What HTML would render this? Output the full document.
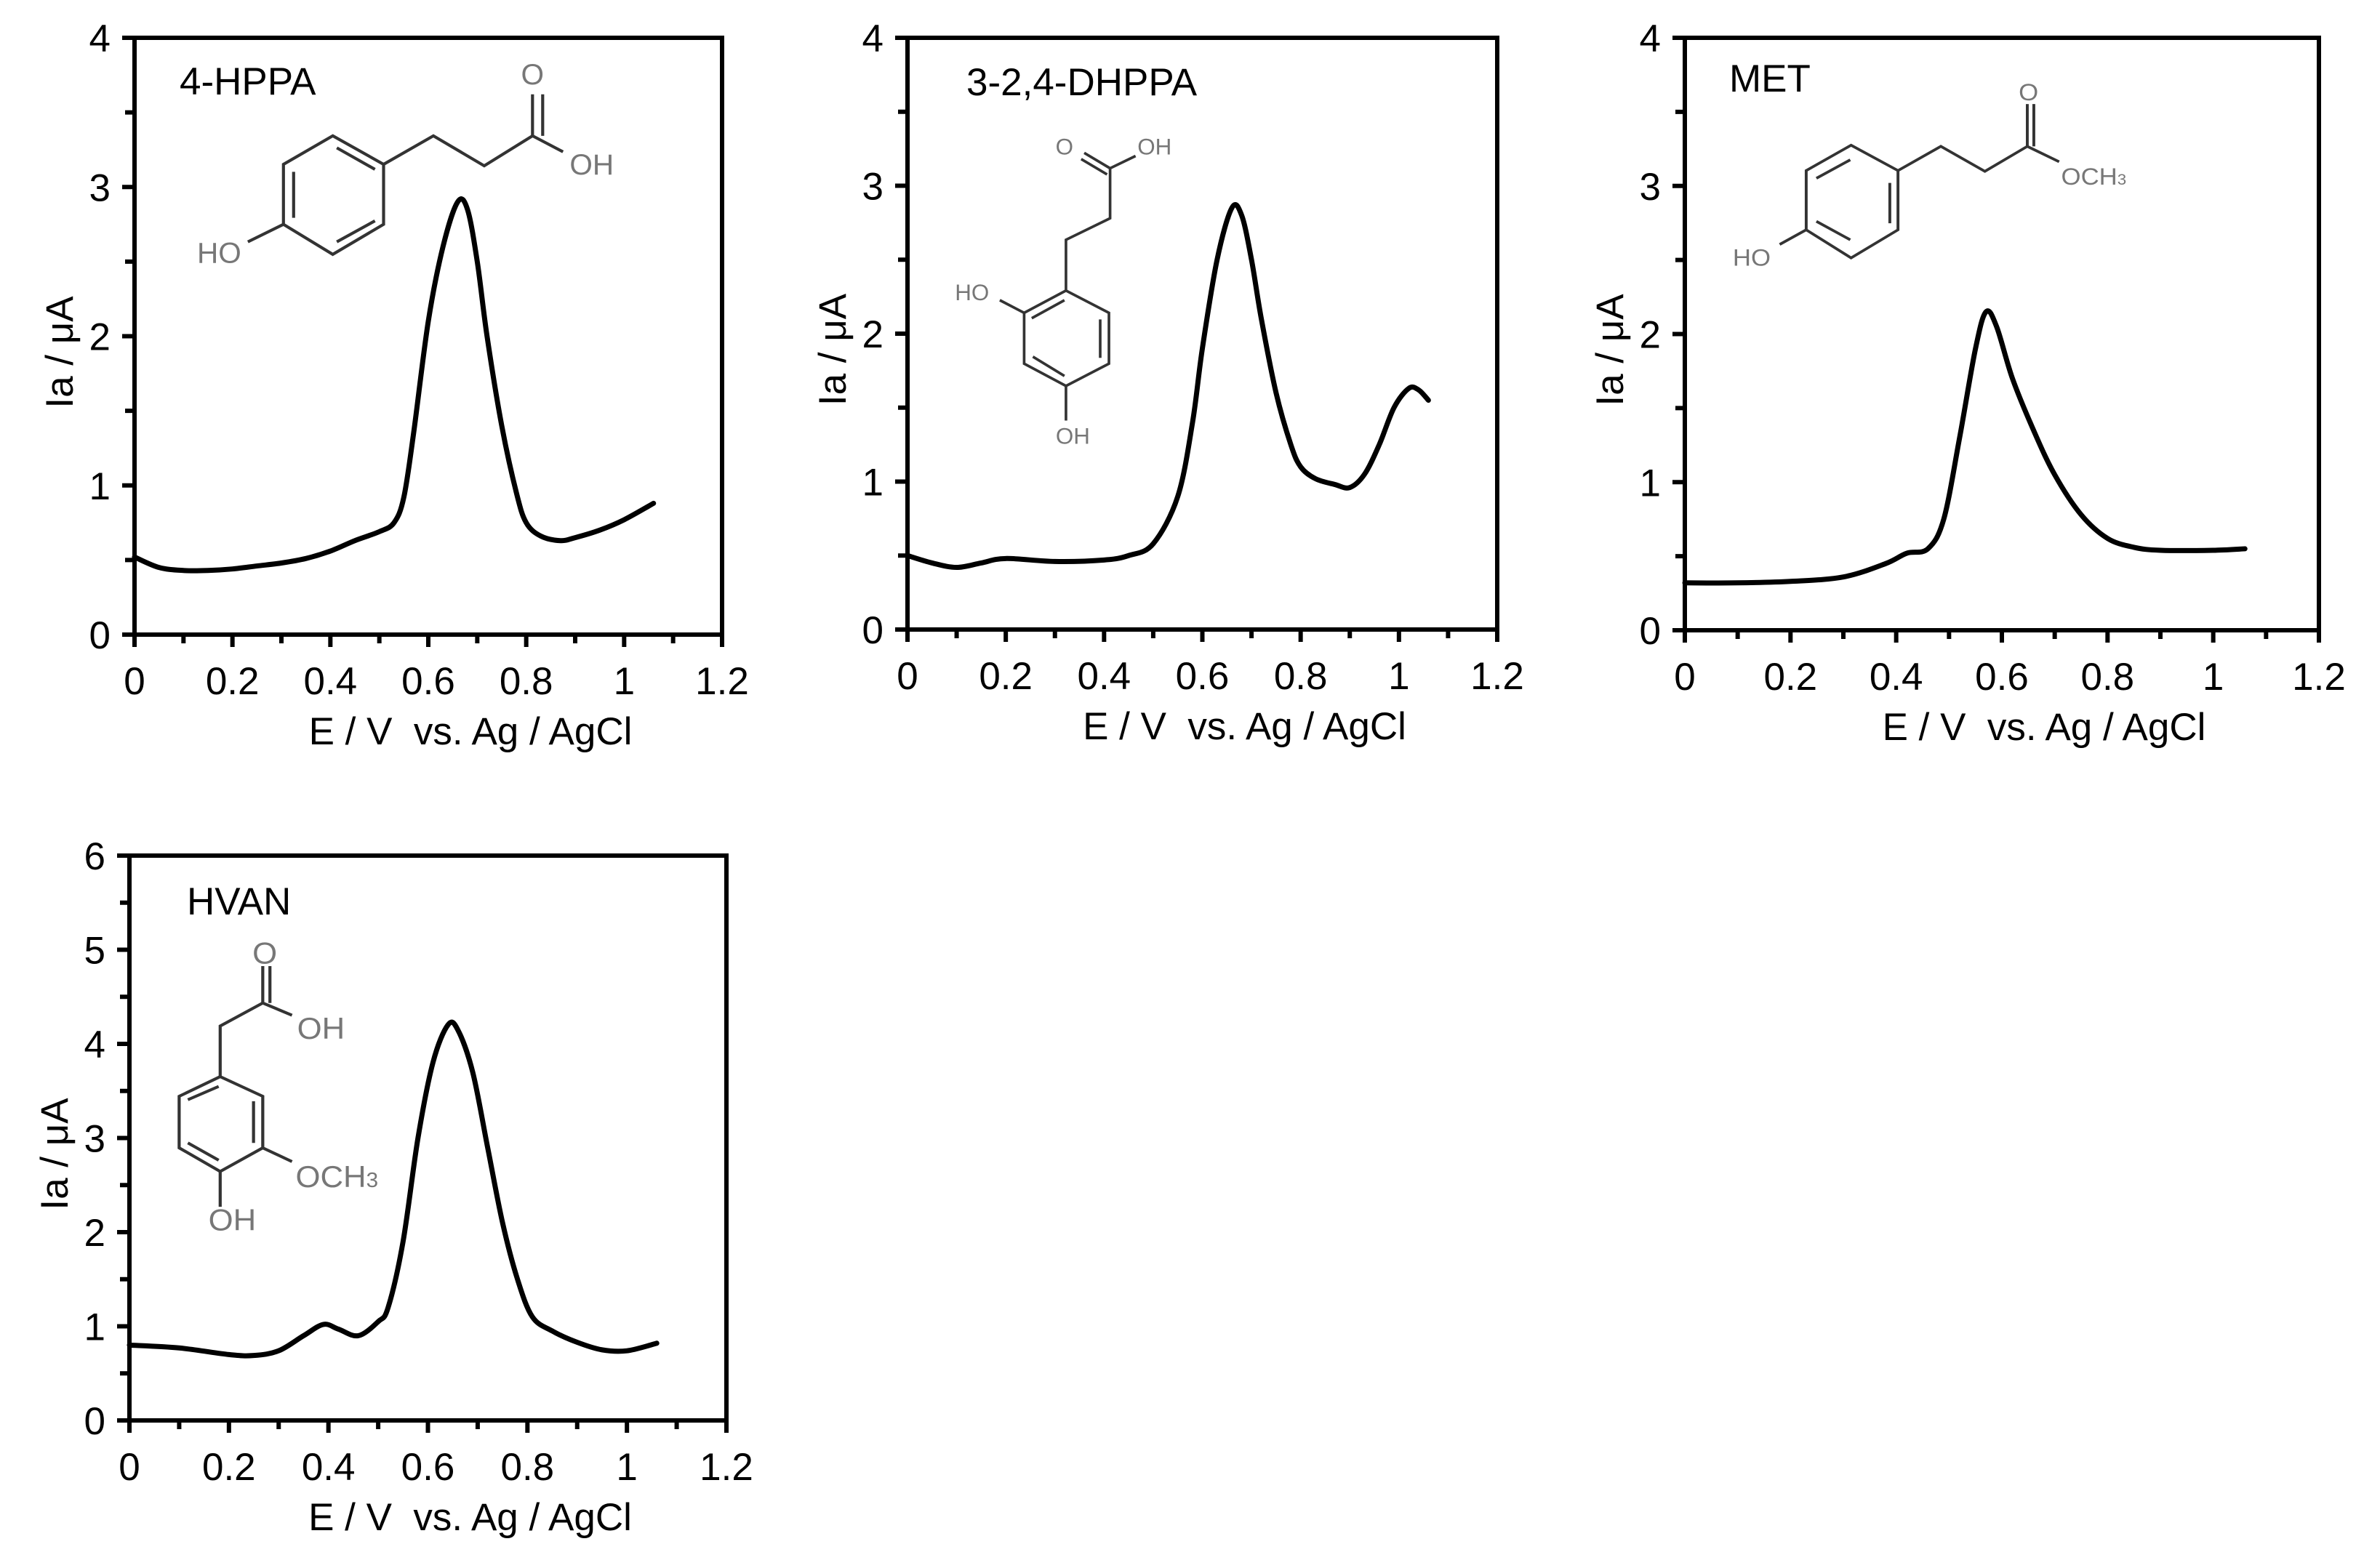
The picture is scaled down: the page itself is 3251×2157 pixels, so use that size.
<!DOCTYPE html>
<html><head><meta charset="utf-8">
<style>
html,body{margin:0;padding:0;background:#fff;}
svg{display:block;font-family:"Liberation Sans",Arial,sans-serif;}
.pre{white-space:pre;}
</style></head>
<body>
<svg id="fig" width="3251" height="2157" viewBox="0 0 3251 2157" xmlns="http://www.w3.org/2000/svg">
<rect width="3251" height="2157" fill="#fff"/>

<g transform="matrix(0.699,0,0,0.688,1.86,2.46)" stroke="#333" stroke-width="6" fill="none">
  <polygon points="652,268 752,325 752,445 652,505 555,445 555,325"/>
  <line x1="575" y1="340" x2="575" y2="432"/><line x1="660" y1="292" x2="735" y2="335"/><line x1="660" y1="480" x2="735" y2="438"/>
  <polyline points="752,325 850,268 950,328 1045,268 1105,300"/>
  <line x1="1045" y1="268" x2="1045" y2="185"/><line x1="1065" y1="268" x2="1065" y2="185"/>
  <line x1="555" y1="445" x2="485" y2="480"/>
  <g stroke="none" fill="#777" font-size="58">
    <text x="1045" y="165" text-anchor="middle">O</text>
    <text x="1118" y="345">OH</text>
    <text x="385" y="522">HO</text>
  </g>
</g>

<g transform="matrix(0.523,0,0,0.529,1240,40)" stroke="#333" stroke-width="7" fill="none">
  <polygon points="432,680 545,738 545,870 432,928 322,870 322,738"/>
  <line x1="342" y1="752" x2="428" y2="705"/><line x1="522" y1="755" x2="522" y2="855"/><line x1="345" y1="852" x2="428" y2="902"/>
  <polyline points="432,680 432,548 548,492 548,362 615,330"/>
  <line x1="548" y1="362" x2="480" y2="322"/><line x1="540" y1="378" x2="472" y2="338"/>
  <line x1="322" y1="738" x2="258" y2="705"/>
  <line x1="432" y1="928" x2="432" y2="1018"/>
  <g stroke="none" fill="#777" font-size="60">
    <text x="428" y="326" text-anchor="middle">O</text>
    <text x="620" y="326">OH</text>
    <text x="140" y="705">HO</text>
    <text x="405" y="1078">OH</text>
  </g>
</g>

<g transform="matrix(0.561,0,0,0.529,2310,40)" stroke="#333" stroke-width="7" fill="none">
  <polygon points="420,302 535,368 535,522 420,595 310,522 310,368"/>
  <line x1="335" y1="388" x2="418" y2="340"/><line x1="515" y1="400" x2="515" y2="505"/><line x1="335" y1="500" x2="418" y2="548"/>
  <polyline points="535,368 640,305 748,370 852,305 930,345"/>
  <line x1="852" y1="305" x2="852" y2="195"/><line x1="868" y1="305" x2="868" y2="195"/>
  <line x1="310" y1="522" x2="245" y2="560"/>
  <g stroke="none" fill="#777" font-size="62">
    <text x="855" y="185" text-anchor="middle">O</text>
    <text x="935" y="405">OCH<tspan font-size="40">3</tspan></text>
    <text x="130" y="615">HO</text>
  </g>
</g>

<g transform="matrix(0.7053,0,0,0.6757,-4.0,1099.3)" stroke="#333" stroke-width="6" fill="none">
  <polygon points="435,565 518,605 518,710 435,758 355,710 355,605"/>
  <line x1="372" y1="612" x2="432" y2="585"/><line x1="500" y1="615" x2="500" y2="700"/><line x1="372" y1="700" x2="432" y2="735"/>
  <polyline points="435,565 435,462 518,415 575,440"/>
  <line x1="518" y1="415" x2="518" y2="340"/><line x1="532" y1="415" x2="532" y2="340"/>
  <line x1="518" y1="710" x2="575" y2="738"/>
  <line x1="435" y1="758" x2="435" y2="830"/>
  <g stroke="none" fill="#777" font-size="62">
    <text x="522" y="335" text-anchor="middle">O</text>
    <text x="585" y="488">OH</text>
    <text x="582" y="790">OCH<tspan font-size="42">3</tspan></text>
    <text x="412" y="878">OH</text>
  </g>
</g>
</svg>

<script>
const xs1 = [0,0.05,0.1,0.15,0.2,0.25,0.3,0.35,0.4,0.45,0.5,0.53,0.55,0.57,0.6,0.63,0.66,0.68,0.7,0.72,0.75,0.78,0.8,0.83,0.87,0.9,0.95,1.0,1.06];
const ys1 = [0.52,0.45,0.43,0.43,0.44,0.46,0.48,0.51,0.56,0.63,0.69,0.75,0.92,1.35,2.1,2.6,2.9,2.85,2.5,2.0,1.4,0.95,0.75,0.66,0.63,0.65,0.7,0.77,0.88];
const xs2 = [0,0.05,0.1,0.15,0.2,0.3,0.4,0.45,0.5,0.55,0.58,0.6,0.63,0.66,0.68,0.7,0.72,0.75,0.78,0.8,0.83,0.87,0.9,0.93,0.96,0.99,1.02,1.04,1.06];
const ys2 = [0.5,0.45,0.42,0.45,0.48,0.46,0.47,0.5,0.58,0.9,1.4,1.9,2.5,2.85,2.8,2.5,2.1,1.6,1.25,1.1,1.02,0.98,0.96,1.05,1.25,1.5,1.63,1.62,1.55];
const xs3 = [0,0.1,0.2,0.3,0.38,0.42,0.46,0.49,0.52,0.55,0.57,0.59,0.62,0.66,0.7,0.75,0.8,0.85,0.9,1.0,1.06];
const ys3 = [0.32,0.32,0.33,0.36,0.45,0.52,0.55,0.75,1.3,1.9,2.15,2.05,1.7,1.35,1.05,0.78,0.62,0.56,0.54,0.54,0.55];
const xs4 = [0,0.1,0.2,0.25,0.3,0.35,0.39,0.42,0.46,0.5,0.52,0.55,0.58,0.61,0.64,0.66,0.69,0.72,0.75,0.78,0.81,0.85,0.9,0.95,1.0,1.06];
const ys4 = [0.8,0.77,0.7,0.69,0.74,0.9,1.02,0.97,0.9,1.05,1.2,1.9,3.0,3.8,4.2,4.15,3.7,2.9,2.1,1.5,1.1,0.95,0.83,0.75,0.74,0.82];
const xTicks = [0,0.2,0.4,0.6,0.8,1,1.2];
const xTickLabels = ["0","0.2","0.4","0.6","0.8","1","1.2"];
const yTicks4 = [0,1,2,3,4];
const yTicks6 = [0,1,2,3,4,5,6];

const panels = [
  {name:"4-hppa", label:"4-HPPA", L:185,R:993,T:52,B:873, ymax:4, yt:yTicks4, xs:xs1, ys:ys1, lx:247, ly:130},
  {name:"dhppa", label:"3-2,4-DHPPA", L:1248,R:2059,T:52,B:866, ymax:4, yt:yTicks4, xs:xs2, ys:ys2, lx:1329, ly:131},
  {name:"met", label:"MET", L:2317,R:3189,T:52,B:867, ymax:4, yt:yTicks4, xs:xs3, ys:ys3, lx:2378, ly:126},
  {name:"hvan", label:"HVAN", L:178,R:999,T:1177,B:1954, ymax:6, yt:yTicks6, xs:xs4, ys:ys4, lx:257, ly:1258}
];
const NS="http://www.w3.org/2000/svg";
const svg=document.getElementById('fig');
function mk(tag,attrs,parent){const e=document.createElementNS(NS,tag);for(const k in attrs)e.setAttribute(k,attrs[k]);(parent||svg).appendChild(e);return e;}

panels.forEach(p=>{
  const g=mk('g',{});
  
  
  const sx=v=>p.L+(v/1.2)*(p.R-p.L);
  const sy=v=>p.B-(v/p.ymax)*(p.B-p.T);
  const fr=mk('rect',{x:p.L,y:p.T,width:p.R-p.L,height:p.B-p.T,fill:'none',stroke:'#000','stroke-width':6},g);
  
  
  for(let i=0;i<=12;i++){
    const v=i*0.1, x=sx(v), major=(i%2===0);
    const t=mk('line',{x1:x,y1:p.B,x2:x,y2:p.B+(major?17:12),stroke:'#000','stroke-width':6},g);
    
    
  }
  xTicks.forEach((v,i)=>{
    const t=mk('text',{x:sx(v),y:p.B+82,'font-size':53,'text-anchor':'middle'},g);
    t.textContent=xTickLabels[i];
    
    
  });
  for(let v=0; v<=p.ymax+1e-9; v+=0.5){
    const y=sy(v), major=Math.abs(v-Math.round(v))<1e-9;
    const t=mk('line',{x1:p.L-(major?17:13),y1:y,x2:p.L,y2:y,stroke:'#000','stroke-width':6},g);
    
    
  }
  p.yt.forEach(v=>{
    const t=mk('text',{x:p.L-33,y:sy(v)+19,'font-size':53,'text-anchor':'end'},g);
    t.textContent=String(v);
    
    
  });
  const xt=mk('text',{x:(p.L+p.R)/2+58,y:p.B+151,'font-size':53,'text-anchor':'middle','class':'pre'},g);
  xt.textContent='E / V  vs. Ag / AgCl';
  
  
  const cy=(p.T+p.B)/2+22, cx=p.L-85;
  const yt=mk('text',{x:cx,y:cy,'font-size':53,'text-anchor':'middle',transform:`rotate(-90 ${cx} ${cy})`},g);
  yt.textContent='Ia / μA';
  
  
  const lb=mk('text',{x:p.lx,y:p.ly,'font-size':53},g);
  lb.textContent=p.label;
  
  
  const pts=p.xs.map((x,i)=>[sx(x),sy(p.ys[i])]);
  let d=`M${pts[0][0]},${pts[0][1]}`;
  for(let i=0;i<pts.length-1;i++){
    const p0=pts[Math.max(0,i-1)],p1=pts[i],p2=pts[i+1],p3=pts[Math.min(pts.length-1,i+2)];
    const c1=[p1[0]+(p2[0]-p0[0])/6,p1[1]+(p2[1]-p0[1])/6];
    const c2=[p2[0]-(p3[0]-p1[0])/6,p2[1]-(p3[1]-p1[1])/6];
    d+=` C${c1[0]},${c1[1]} ${c2[0]},${c2[1]} ${p2[0]},${p2[1]}`;
  }
  const path=mk('path',{d:d,fill:'none',stroke:'#000','stroke-width':7,'stroke-linejoin':'round','stroke-linecap':'round'},g);
  
  
});
</script>
</body></html>
